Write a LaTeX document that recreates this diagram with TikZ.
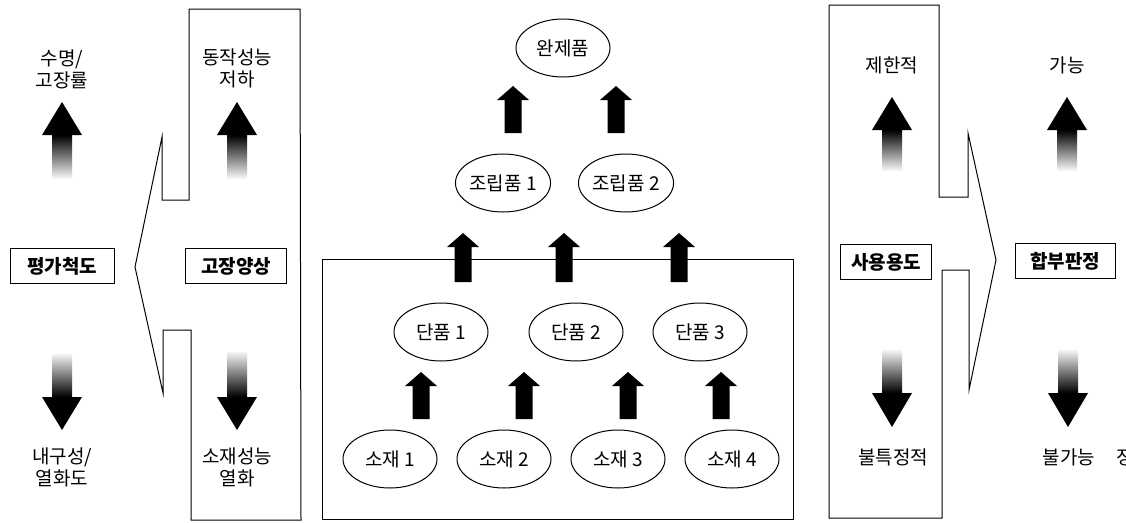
\documentclass[tikz,border=0pt]{standalone}
\usepackage{fontspec}
\newfontfamily\kr{Noto Sans CJK KR}
\usetikzlibrary{shapes.geometric}
\newcommand\blk[3]{% x, bottom, tip
  \fill (#1-8.5,#2) -- (#1-8.5,#3+14) -- (#1-16,#3+14) -- (#1,#3) -- (#1+16,#3+14) -- (#1+8.5,#3+14) -- (#1+8.5,#2) -- cycle;}
\newcommand\gradup[4]{% x, tip, headbase, bottom
  \shade[top color=black, middle color=black!55, bottom color=black!4] (#1-10,#3) rectangle (#1+10,#4);
  \fill (#1-20,#3) -- (#1,#2) -- (#1+20,#3) -- cycle;}
\newcommand\graddown[4]{% x, top, headbase, tip
  \shade[top color=black!4, middle color=black!55, bottom color=black] (#1-10,#2) rectangle (#1+10,#3);
  \fill (#1-20,#3) -- (#1,#4) -- (#1+20,#3) -- cycle;}
\begin{document}
\begin{tikzpicture}[x=1pt,y=-1pt,
  outline/.style={draw=black, line width=1pt, line join=miter},
  ell/.style={draw, ellipse, line width=1pt, minimum width=94pt, minimum height=58pt, inner sep=0pt, font=\kr\fontsize{19}{22}\selectfont},
  lbl/.style={font=\kr\fontsize{19}{22}\selectfont, align=center, inner sep=0pt},
  boxlbl/.style={draw, line width=1pt, font=\kr\bfseries\fontsize{19}{22}\selectfont, minimum height=35pt, inner sep=0pt},
]
\clip (0,0) rectangle (1126,522);
\fill[white] (0,0) rectangle (1126,522);

% left callout
\draw[outline] (189,9) -- (300,9) -- (301,520) -- (191,520) -- (191,330) -- (163,330) -- (163,393)
  -- (135,267) -- (162,137) -- (162,200) -- (189,200) -- cycle;
% right callout
\draw[outline] (829,5) -- (939,5) -- (939,197) -- (968,197) -- (968,133) -- (996,260) -- (969,390)
  -- (969,270) -- (942,270) -- (942,518) -- (829,518) -- cycle;
% middle frame
\draw[outline] (322,259) rectangle (793,519);

% left column texts
\node[lbl] (life) at (62,69) {수명/\\고장률};
\node[lbl] (perf) at (237,68) {동작성능\\저하};
\node[lbl] (dur) at (62,467) {내구성/\\열화도};
\node[lbl] (mat) at (237,467) {소재성능\\열화};
\node[boxlbl, minimum width=104pt] (eval) at (62,266) {평가척도};
\node[boxlbl, minimum width=101pt] (fail) at (236,266) {고장양상};

% right column texts
\node[lbl] (lim) at (892,65) {제한적};
\node[lbl] (pos) at (1067,65) {가능};
\node[lbl] (unsp) at (893,457) {불특정적};
\node[lbl] (imp) at (1069,457) {불가능};
\node[lbl, anchor=west] (cut) at (1116,457) {정};
\node[boxlbl, minimum width=91pt] (use) at (886,262) {사용용도};
\node[boxlbl, minimum width=100pt] (judge) at (1065,261) {합부판정};

% gradient arrows
\gradup{62}{102}{135}{178}
\gradup{237}{102}{135}{178}
\graddown{62}{354}{397}{430}
\graddown{237}{352}{397}{430}
\gradup{892}{97}{130}{170}
\gradup{1067}{97}{130}{170}
\graddown{892}{350}{393}{427}
\graddown{1068}{350}{393}{427}

% ellipses
\node[ell] (final) at (563,48) {완제품};
\node[ell] (asm1) at (503,183) {조립품 1};
\node[ell] (asm2) at (626,183) {조립품 2};
\node[ell] (part1) at (441,332) {단품 1};
\node[ell] (part2) at (576,332) {단품 2};
\node[ell] (part3) at (700,332) {단품 3};
\node[ell] (m1) at (390,459) {소재 1};
\node[ell] (m2) at (504,459) {소재 2};
\node[ell] (m3) at (618,459) {소재 3};
\node[ell] (m4) at (732,459) {소재 4};

% block arrows
\blk{513}{133}{86}
\blk{616}{133}{86}
\blk{463}{282}{233}
\blk{564}{282}{233}
\blk{679}{282}{233}
\blk{421}{419}{372}
\blk{524}{419}{372}
\blk{628}{419}{372}
\blk{721}{419}{372}
\end{tikzpicture}
\end{document}
